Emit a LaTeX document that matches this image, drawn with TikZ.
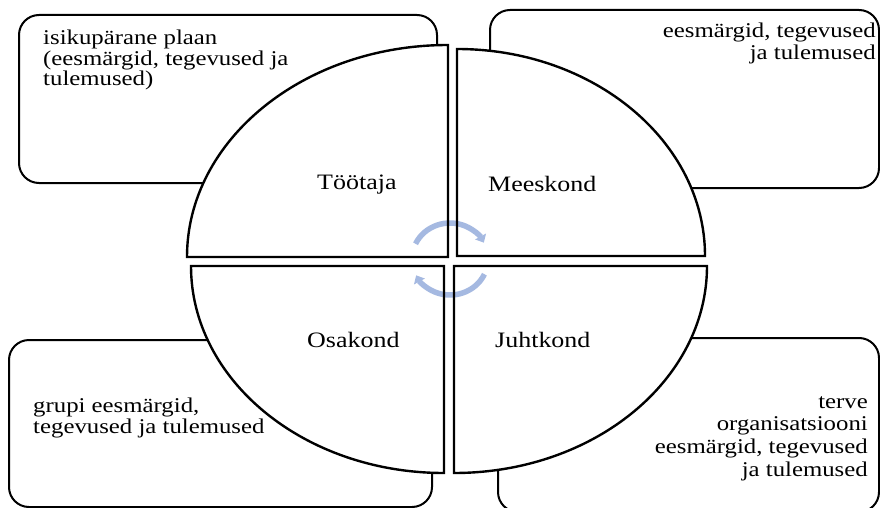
\documentclass[tikz,border=0pt]{standalone}
\usepackage{fontspec}
\setmainfont{Liberation Serif}
\usetikzlibrary{arrows.meta}
\definecolor{cyc}{RGB}{165,185,225}
\begin{document}
\begin{tikzpicture}[x=1pt,y=-1pt,
  box/.style={draw=black, line width=2pt, fill=white, rounded corners=20pt},
  quadfill/.style={fill=white},
  quadline/.style={draw=black, line width=2.4pt, line join=miter},
  txt/.style={inner sep=0pt, xscale=1.18, transform shape},
  lbl/.style={inner sep=0pt, font=\fontsize{22}{24}\selectfont, xscale=1.18, transform shape, anchor=base west},
  cycarrow/.style={draw=cyc, line width=5.5pt, -{Triangle[length=7pt,width=12pt]}}
]
\fill[white] (0,0) rectangle (880,508);
\useasboundingbox (0,0) rectangle (880,508);
% corner boxes
\draw[box] (19,15) rectangle (437,183);
\draw[box] (490,10) rectangle (879,188);
\draw[box] (9,340) rectangle (432,507);
\draw[box] (498,338) rectangle (879,512);
% quadrant fills
\fill[quadfill] (448,257) -- (187,257) arc[start angle=180, end angle=270, x radius=261, y radius=212] -- cycle;
\fill[quadfill] (457,256) -- (457,49) arc[start angle=270, end angle=360, x radius=248, y radius=207] -- cycle;
\fill[quadfill] (444,266) -- (191,266) arc[start angle=180, end angle=90, x radius=253, y radius=207] -- cycle;
\fill[quadfill] (454,266) -- (454,473) arc[start angle=90, end angle=0, x radius=253, y radius=207] -- cycle;
% cycle arrows
\draw[cycarrow] (450,259) ++(205:38 and 36) arc[start angle=205, end angle=333, x radius=38, y radius=36];
\draw[cycarrow] (450,259) ++(25:38 and 36) arc[start angle=25, end angle=153, x radius=38, y radius=36];
% quadrant outlines
\draw[quadline] (448,257) -- (187,257) arc[start angle=180, end angle=270, x radius=261, y radius=212] -- cycle;
\draw[quadline] (457,256) -- (457,49) arc[start angle=270, end angle=360, x radius=248, y radius=207] -- cycle;
\draw[quadline] (444,266) -- (191,266) arc[start angle=180, end angle=90, x radius=253, y radius=207] -- cycle;
\draw[quadline] (454,266) -- (454,473) arc[start angle=90, end angle=0, x radius=253, y radius=207] -- cycle;
% labels
\node[lbl] (tootaja) at (317,189) {Töötaja};
\node[lbl] (meeskond) at (488,191) {Meeskond};
\node[lbl] (osakond) at (307,347) {Osakond};
\node[lbl] (juhtkond) at (495,347) {Juhtkond};
% box texts (anchor = baseline of the last line)
\node[txt, anchor=base west, align=left, font=\fontsize{21}{20.5}\selectfont] (tl) at (43,86)
  {isikupärane plaan\\(eesmärgid, tegevused ja\\tulemused)};
\node[txt, anchor=base east, align=right, font=\fontsize{21}{22}\selectfont] (tr) at (876,60)
  {eesmärgid, tegevused\\ja tulemused};
\node[txt, anchor=base west, align=left, font=\fontsize{21}{20.5}\selectfont] (bl) at (33,433)
  {grupi eesmärgid,\\tegevused ja tulemused};
\node[txt, anchor=base east, align=right, font=\fontsize{21}{22.6}\selectfont] (br) at (868,476)
  {terve\\organisatsiooni\\eesmärgid, tegevused\\ja tulemused};
\end{tikzpicture}
\end{document}
